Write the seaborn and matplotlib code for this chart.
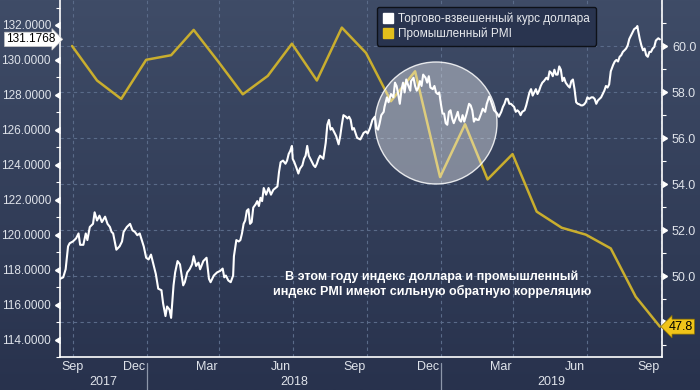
import numpy as np
import pandas as pd
import matplotlib
matplotlib.use("Agg")
import matplotlib.pyplot as plt
import matplotlib.dates as mdates
from matplotlib.patches import Ellipse
from matplotlib.lines import Line2D
from matplotlib.colors import LinearSegmentedColormap
import seaborn as sns

# ---------------- data ----------------
# Trade-weighted dollar index; day offsets counted from 2017-10-01
usd_start = "2017-10-01"
usd_day = [
    -16, -12, -9, -6, -4, 0, 4, 7, 9, 13, 16, 18, 21, 25, 27, 30, 33, 36, 40, 43, 46, 48, 50, 54, 58,
    61, 63, 67, 71, 74, 77, 80, 83, 88, 91, 94, 97, 100, 103, 106, 110, 112, 115, 117, 120, 122, 125,
    127, 130, 133, 137, 139, 142, 145, 148, 150, 153, 156, 158, 162, 166, 169, 171,
    175, 179, 183, 186, 188, 190, 193, 196, 199, 200, 203, 206, 208, 210, 212, 214, 216, 218, 220,
    222, 224, 227, 229, 231, 233, 235, 237, 240, 243, 246, 249, 254, 256, 258, 261, 264, 266, 268,
    270, 272, 273, 275, 278, 280, 282, 285, 287, 289, 291, 293, 295, 297, 299, 301, 303, 305, 307,
    311, 314, 316, 318, 320, 322, 325, 327, 330, 332, 334, 336, 339, 341, 343, 345, 347, 349, 351,
    353, 357,
    361, 364, 366, 369, 372, 375, 377, 379, 381, 383, 386, 387, 390, 392, 395, 398, 400, 402, 404,
    406, 408, 410, 412, 414, 416, 419, 420, 423, 425, 427, 429, 431, 433, 435, 438, 440, 442, 444,
    447, 449, 451, 453, 455, 457, 459, 461, 463, 465, 467, 469, 471, 473, 476, 478, 480, 482, 484,
    486, 489, 492, 494, 496, 498, 500, 502, 504, 507, 509, 512, 514, 517, 519, 521, 523, 525, 527,
    529, 532, 534, 536, 538, 540, 542, 544,
    548, 550, 552, 554, 556, 558, 561, 563, 565, 567, 569, 571, 573, 575, 577, 579, 581, 583, 585,
    588, 590, 592, 594, 596, 598, 600, 602, 604, 606, 608, 610, 612, 615, 617, 619, 621, 623, 625,
    627, 629, 631, 633, 635, 637, 639, 641, 644, 646, 648, 650, 652, 654, 656, 658, 660, 662, 664,
    666, 668, 671, 673, 675, 677, 679, 681, 683, 685, 687, 689, 691, 693, 695, 697, 700, 701, 702,
    704, 706, 708, 710, 712, 714, 716, 718, 720, 722, 724, 727, 729,
]
usd_value = [
    117.47, 117.56, 118.02, 119.33, 119.51, 119.61, 119.79, 120.07, 119.42, 119.42, 120.07, 119.69,
    120.44, 120.62, 121.28, 120.81, 121.09, 120.72, 121.03, 120.62, 120.44, 120.16, 120.07, 119.14,
    119.33, 119.61, 120.16, 120.44, 120.62, 120.25, 120.16, 119.97, 120.07, 119.33, 118.68, 118.58,
    118.86, 118.30, 117.75, 116.91, 116.82, 116.08, 115.34, 115.89, 115.71, 115.24, 117.10, 117.84,
    118.49, 118.30, 117.10, 117.28, 117.84, 118.02, 118.30, 118.77, 118.21, 118.40, 118.02, 118.49,
    118.68, 117.47, 117.28,
    117.66, 117.84, 117.93, 118.06, 117.56, 117.66, 117.38, 117.28, 117.66, 118.77, 119.69, 119.61,
    119.69, 120.07, 120.62, 120.81, 121.37, 121.46, 120.62, 120.72, 121.55, 121.74, 121.92, 121.64,
    122.11, 121.92, 122.67, 122.29, 122.67, 122.29, 122.57, 122.76, 123.59, 124.15, 124.24, 124.06,
    124.24, 124.62, 124.80, 125.08, 124.34, 124.15, 123.78, 123.50, 123.78, 123.97, 124.34, 124.52,
    125.08, 124.52, 124.34, 124.15, 123.97, 123.87, 124.06, 124.34, 124.52, 124.34, 125.26, 126.29,
    126.57, 126.01, 126.10, 125.82, 125.64, 125.17, 125.64, 126.29, 126.84, 126.75, 126.65, 126.75,
    126.57, 126.01, 126.10, 125.82, 125.54, 125.45,
    125.82, 125.91, 125.79, 126.10, 126.57, 126.75, 126.10, 126.01, 126.38, 126.84, 127.03, 127.31,
    127.86, 127.58, 128.05, 127.86, 128.70, 128.51, 128.05, 127.49, 128.24, 128.70, 128.14, 128.88,
    128.60, 128.24, 128.79, 128.98, 128.51, 128.24, 128.42, 128.79, 128.51, 129.16, 128.98, 128.70,
    129.07, 128.42, 128.33, 128.51, 128.14, 128.05, 128.14, 127.49, 126.93, 126.93, 126.38, 126.29,
    127.03, 127.12, 126.65, 126.38, 126.75, 127.03, 126.57, 126.47, 126.84, 126.47, 126.93, 127.49,
    127.40, 127.12, 126.47, 126.65, 126.57, 126.57, 126.93, 127.21, 127.03, 127.49, 127.90, 127.68,
    127.40, 127.12, 127.03, 126.93, 126.75, 127.03, 127.31, 127.49, 127.77, 127.77, 127.49, 127.49,
    127.31, 127.03, 127.12, 127.03, 126.84, 127.03, 127.12, 127.40, 127.77, 128.14, 128.33, 127.96,
    128.14, 128.33, 128.05, 128.24, 128.51, 128.70, 128.79, 128.98, 128.88, 129.35, 129.26, 129.07,
    129.44, 129.16, 129.16, 129.63, 129.44, 128.79, 128.98, 128.70, 128.51, 128.42, 128.79, 128.88,
    128.33, 127.58, 127.49, 127.46, 127.40, 127.40, 127.46, 127.58, 127.86, 127.77, 127.86, 127.86,
    127.77, 127.49, 127.68, 127.77, 127.86, 128.05, 128.24, 128.51, 128.42, 128.60, 129.35, 129.72,
    129.91, 130.00, 129.91, 130.18, 130.27, 130.46, 130.55, 130.65, 130.83, 131.20, 131.39, 131.58,
    131.76, 131.86, 131.94, 131.67, 131.20, 130.83, 130.55, 130.65, 130.27, 130.18, 130.46, 130.46,
    130.65, 130.74, 131.11, 131.24, 131.1768,
]

# ISM manufacturing PMI (monthly, plotted at month end)
pmi_month = [
    "2017-09", "2017-10", "2017-11", "2017-12", "2018-01", "2018-02", "2018-03", "2018-04",
    "2018-05", "2018-06", "2018-07", "2018-08", "2018-09", "2018-10", "2018-11", "2018-12",
    "2019-01", "2019-02", "2019-03", "2019-04", "2019-05", "2019-06", "2019-07", "2019-08", "2019-09",
]
pmi_value = [
    60.0, 58.5, 57.7, 59.4, 59.6, 60.7, 59.3, 57.9, 58.7, 60.1, 58.5, 60.8, 59.7,
    57.6, 58.9, 54.3, 56.6, 54.2, 55.3, 52.8, 52.1, 51.8, 51.2, 49.1, 47.8,
]

left_ticks = [114, 116, 118, 120, 122, 124, 126, 128, 130, 132]
right_ticks = [48, 50, 52, 54, 56, 58, 60]
month_labels = ["Sep", "Dec", "Mar", "Jun", "Sep", "Dec", "Mar", "Jun", "Sep"]
month_label_dates = ["2017-10-01", "2017-12-16", "2018-03-16", "2018-06-16", "2018-09-16",
                     "2018-12-16", "2019-03-16", "2019-06-16", "2019-09-16"]
year_labels = ["2017", "2018", "2019"]
legend_labels = ["Торгово-взвешенный курс доллара", "Промышленный PMI"]
note = ("В этом году индекс доллара и промышленный\n"
        "индекс PMI имеют сильную обратную корреляцию")

# ---------------- style ----------------
sns.set_theme(style="dark")
plt.rcParams["font.family"] = ["Liberation Sans", "DejaVu Sans"]

WHITE = "#ffffff"
YELLOW = "#c9ae2e"
YELLOW_BOX = "#f0c419"
TXT = "#dfe3ea"
GRID = "#5a6b89"

usd_df = pd.DataFrame({
    "date": pd.Timestamp(usd_start) + pd.to_timedelta(usd_day, unit="D"),
    "value": usd_value,
})
pmi_df = pd.DataFrame({
    "date": pd.PeriodIndex(pmi_month, freq="M").to_timestamp(how="end").normalize(),
    "value": pmi_value,
})

fig = plt.figure(figsize=(7.0, 3.9), dpi=100)

bg = fig.add_axes([0, 0, 1, 1], zorder=0)
grad = np.linspace(0, 1, 256).reshape(-1, 1)
bg.imshow(grad, aspect="auto", extent=[0, 1, 0, 1], origin="upper",
          cmap=LinearSegmentedColormap.from_list("bg", ["#3f4c67", "#28324d"]))
bg.set_axis_off()

rect = [60 / 700, 33 / 390, 601.5 / 700, 357 / 390]
ax_l = fig.add_axes(rect, zorder=3)
ax_r = ax_l.twinx()
ax_r.set_zorder(2)
ax_l.patch.set_visible(False)
ax_r.patch.set_visible(False)

sns.lineplot(data=pmi_df, x="date", y="value", ax=ax_r, color=YELLOW, lw=1.8)
sns.lineplot(data=usd_df, x="date", y="value", ax=ax_l, color=WHITE, lw=1.5)

xmin, xmax = pd.Timestamp("2017-09-15"), pd.Timestamp("2019-10-02")
ax_l.set_xlim(xmin, xmax)
ax_l.set_ylim(113.55, 133.43)
ax_r.set_ylim(46.48, 62.0)
for a in (ax_l, ax_r):
    a.set_xlabel("")
    a.set_ylabel("")
    a.grid(False)

# grid: horizontal from right axis, vertical at quarter starts
ax_r.yaxis.grid(True, ls=(0, (3, 3)), color=GRID, lw=0.8)
for q in pd.date_range("2017-10-01", "2019-10-01", freq="QS-JAN"):
    ax_r.axvline(mdates.date2num(q), ls=(0, (3, 3)), color=GRID, lw=0.8, zorder=0)

# spines
for a in (ax_l, ax_r):
    for s in a.spines.values():
        s.set_visible(False)
ax_l.spines["left"].set_visible(True)
ax_l.spines["bottom"].set_visible(True)
ax_r.spines["right"].set_visible(True)
for s in (ax_l.spines["left"], ax_l.spines["bottom"], ax_r.spines["right"]):
    s.set_color(WHITE)
    s.set_linewidth(1.2)

# x ticks
ax_l.set_xticks(mdates.date2num(pd.to_datetime(month_label_dates)))
ax_l.set_xticklabels(month_labels)
ax_l.set_xticks(mdates.date2num(pd.date_range("2017-10-01", "2019-10-01", freq="MS")), minor=True)
ax_l.tick_params(axis="x", which="major", length=0, pad=3, labelsize=9, labelcolor=TXT)
ax_l.tick_params(axis="x", which="minor", length=4, width=0.8, color=WHITE, direction="out")

# year row
xt = ax_l.get_xaxis_transform()
jan1 = [mdates.date2num(pd.Timestamp("2018-01-01")), mdates.date2num(pd.Timestamp("2019-01-01"))]
bounds = [mdates.date2num(xmin)] + jan1 + [mdates.date2num(xmax)]
for i, yl in enumerate(year_labels):
    a, b = bounds[i], bounds[i + 1]
    ax_l.text((a + b) / 2, -0.069, yl, transform=xt,
              ha="center", va="center", fontsize=9, color=TXT)
for d in jan1:
    ax_l.add_line(Line2D([d, d], [-0.017, -0.095], transform=xt, clip_on=False,
                         color="#8d97aa", lw=0.9))

# left y ticks
ax_l.set_yticks(left_ticks)
ax_l.set_yticklabels([f"{v:.4f}" for v in left_ticks])
ax_l.set_yticks(np.arange(113, 134, 2), minor=True)
ax_l.tick_params(axis="y", which="major", length=4.5, width=1, color=WHITE, pad=2,
                 labelsize=8.5, labelcolor=TXT)
ax_l.tick_params(axis="y", which="minor", length=3, width=0.8, color=WHITE)

# right y ticks
ax_r.set_yticks(right_ticks)
ax_r.set_yticklabels(["" if v == 48 else f"{v:.1f}" for v in right_ticks])
ax_r.set_yticks(np.arange(47, 62, 2), minor=True)
ax_r.tick_params(axis="y", which="major", length=4.5, width=1, color=WHITE, pad=3,
                 labelsize=9, labelcolor=TXT)
ax_r.tick_params(axis="y", which="minor", length=3, width=0.8, color=WHITE)

for t in ax_l.yaxis.get_major_ticks():
    t.tick1line.set_marker(8)
for t in ax_r.yaxis.get_major_ticks():
    t.tick2line.set_marker(9)

# last value labels
ax_l.text(-0.008, usd_value[-1], f"{usd_value[-1]:.4f}", transform=ax_l.get_yaxis_transform(),
          ha="right", va="center", fontsize=8.5, color="black", zorder=10, clip_on=False,
          bbox=dict(boxstyle="rarrow,pad=0.1", fc="white", ec="#cccccc", lw=0.5))
ax_r.text(1.012, pmi_value[-1], f"{pmi_value[-1]:.1f}", transform=ax_r.get_yaxis_transform(),
          ha="left", va="center", fontsize=9, color="black", zorder=10, clip_on=False,
          bbox=dict(boxstyle="larrow,pad=0.12", fc=YELLOW_BOX, ec="#8a7000", lw=0.5))

# legend
handles = [Line2D([], [], ls="", marker="s", markersize=6.5, markerfacecolor=c, markeredgecolor=c)
           for c in (WHITE, "#e2bf1c")]
leg = ax_l.legend(handles, legend_labels, loc="upper left",
                  bbox_to_anchor=(377 / 700, 1 - 7 / 390), bbox_transform=fig.transFigure,
                  frameon=True, facecolor="#29344f", edgecolor="#0e1118", framealpha=1,
                  prop={"family": ["Liberation Sans", "DejaVu Sans"], "size": 8.5},
                  labelcolor="#e8eaee",
                  handlelength=0.8, handletextpad=0.5, borderpad=0.5, labelspacing=0.15,
                  borderaxespad=0)
leg.get_frame().set_linewidth(1.0)

# highlight circle
fig.add_artist(Ellipse((436 / 700, 1 - 123 / 390), width=122 / 700, height=122 / 390,
                       transform=fig.transFigure, facecolor=(1, 1, 1, 0.38),
                       edgecolor=(1, 1, 1, 0.85), lw=1.0, zorder=5))

# annotation
fig.text(432 / 700, 1 - 284.5 / 390, note, ha="center", va="center", fontsize=9,
         fontweight="bold", color="white", linespacing=1.15, zorder=6,
         family=["Liberation Sans", "DejaVu Sans"])

fig.savefig("out.png", dpi=100, facecolor=fig.get_facecolor())
